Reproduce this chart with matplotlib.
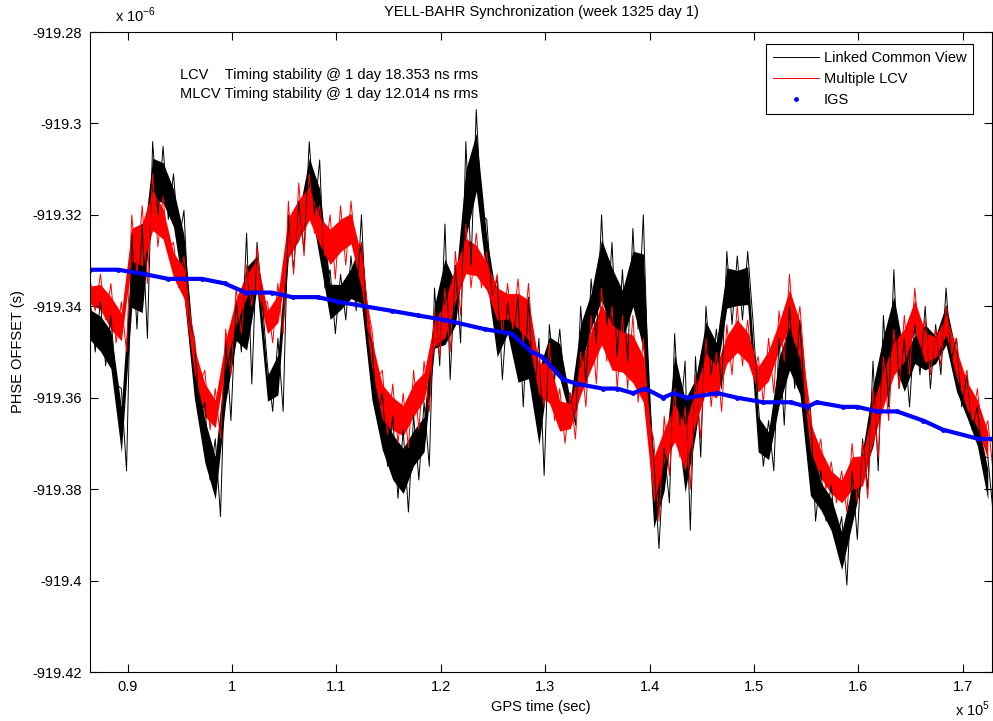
import matplotlib
matplotlib.use('Agg')
from matplotlib import pyplot as plt
import numpy as np

plt.rcParams['font.family'] = ['Liberation Sans', 'DejaVu Sans']
plt.rcParams['mathtext.fontset'] = 'custom'
plt.rcParams['mathtext.rm'] = 'Liberation Sans'

# GPS time of each read-off sample (s); peaks on the whole 1000 s, troughs half-way
t_peak = 86400 + 1000 * np.arange(87)
t_trough = t_peak + 500

# Linked Common View, phase offset in units of 1e-6 s (upper / lower edge of the noisy trace)
lcv_hi = [-919.338, -919.339, -919.342, -919.358, -919.324, -919.322, -919.304, -919.305, -919.311, -919.319,
          -919.347, -919.361, -919.369, -919.347, -919.339, -919.324, -919.326, -919.353, -919.347, -919.320,
          -919.317, -919.304, -919.308, -919.332, -919.333, -919.329, -919.320, -919.348, -919.359, -919.364,
          -919.367, -919.364, -919.361, -919.336, -919.322, -919.331, -919.304, -919.297, -919.321, -919.334,
          -919.339, -919.338, -919.338, -919.347, -919.344, -919.345, -919.359, -919.340, -919.334, -919.320,
          -919.326, -919.332, -919.323, -919.320, -919.373, -919.371, -919.346, -919.352, -919.351, -919.340,
          -919.345, -919.328, -919.329, -919.328, -919.361, -919.365, -919.347, -919.340, -919.343, -919.362,
          -919.376, -919.379, -919.386, -919.376, -919.369, -919.352, -919.342, -919.332, -919.347, -919.344,
          -919.340, -919.344, -919.336, -919.347, -919.355, -919.362, -919.373]
lcv_lo = [-919.350, -919.353, -919.357, -919.376, -919.345, -919.347, -919.320, -919.321, -919.326, -919.343,
          -919.364, -919.378, -919.386, -919.365, -919.350, -919.357, -919.339, -919.363, -919.363, -919.332,
          -919.328, -919.320, -919.336, -919.346, -919.343, -919.341, -919.345, -919.364, -919.375, -919.382,
          -919.385, -919.378, -919.375, -919.353, -919.356, -919.348, -919.331, -919.320, -919.338, -919.356,
          -919.348, -919.362, -919.361, -919.377, -919.356, -919.359, -919.366, -919.357, -919.348, -919.344,
          -919.351, -919.352, -919.345, -919.358, -919.393, -919.383, -919.366, -919.389, -919.373, -919.355,
          -919.358, -919.344, -919.343, -919.343, -919.375, -919.376, -919.366, -919.358, -919.364, -919.387,
          -919.387, -919.392, -919.401, -919.391, -919.380, -919.376, -919.362, -919.358, -919.362, -919.355,
          -919.358, -919.355, -919.352, -919.362, -919.367, -919.373, -919.385]

# Multiple LCV
mlcv_hi = [-919.334, -919.333, -919.335, -919.339, -919.320, -919.318, -919.311, -919.316, -919.326, -919.329,
           -919.347, -919.354, -919.358, -919.345, -919.336, -919.331, -919.327, -919.339, -919.335, -919.317,
           -919.313, -919.311, -919.318, -919.320, -919.318, -919.317, -919.326, -919.345, -919.354, -919.357,
           -919.359, -919.354, -919.352, -919.341, -919.336, -919.328, -919.322, -919.324, -919.328, -919.333,
           -919.335, -919.334, -919.335, -919.350, -919.348, -919.358, -919.359, -919.350, -919.342, -919.336,
           -919.340, -919.342, -919.342, -919.347, -919.369, -919.364, -919.358, -919.362, -919.355, -919.347,
           -919.350, -919.344, -919.340, -919.343, -919.351, -919.347, -919.341, -919.333, -919.340, -919.363,
           -919.369, -919.374, -919.376, -919.370, -919.370, -919.358, -919.351, -919.345, -919.342, -919.336,
           -919.343, -919.345, -919.340, -919.347, -919.354, -919.358, -919.365]
mlcv_lo = [-919.341, -919.343, -919.348, -919.350, -919.333, -919.335, -919.327, -919.328, -919.336, -919.341,
           -919.357, -919.367, -919.369, -919.355, -919.346, -919.340, -919.339, -919.348, -919.346, -919.333,
           -919.329, -919.324, -919.329, -919.334, -919.331, -919.329, -919.339, -919.356, -919.368, -919.370,
           -919.371, -919.367, -919.363, -919.351, -919.350, -919.342, -919.336, -919.336, -919.339, -919.346,
           -919.345, -919.348, -919.351, -919.362, -919.365, -919.370, -919.369, -919.362, -919.357, -919.352,
           -919.358, -919.358, -919.361, -919.365, -919.387, -919.377, -919.373, -919.380, -919.369, -919.362,
           -919.363, -919.355, -919.353, -919.355, -919.361, -919.359, -919.352, -919.348, -919.355, -919.374,
           -919.380, -919.383, -919.385, -919.383, -919.382, -919.373, -919.365, -919.358, -919.355, -919.348,
           -919.355, -919.353, -919.348, -919.358, -919.365, -919.369, -919.376]

# IGS reference
igs_t = [86400, 89100, 91700, 93900, 95500, 97100, 99300, 101300, 103800, 105800, 108200, 110200,
         112700, 115300, 117800, 120400, 124200, 126800, 128700, 129700, 131700, 133100, 135500, 136900,
         138400, 139600, 141300, 142300, 143600, 146500, 148400, 150900, 153500, 155100, 156000, 158500,
         159900, 161800, 163700, 166200, 168100, 171500, 172800]
igs_v = [-919.332, -919.332, -919.333, -919.334, -919.334, -919.334, -919.335, -919.337, -919.337, -919.338,
         -919.338, -919.339, -919.340, -919.341, -919.342, -919.343, -919.345, -919.346, -919.350, -919.351,
         -919.356, -919.357, -919.358, -919.358, -919.359, -919.358, -919.360, -919.359, -919.360, -919.359,
         -919.360, -919.361, -919.361, -919.362, -919.361, -919.362, -919.362, -919.363, -919.363, -919.365,
         -919.367, -919.369, -919.369]

x_ticks = np.arange(90000, 170001, 10000)
y_ticks = np.round(np.arange(-919.42, -919.279, 0.02), 2)


def noisy_trace(ax, hi, lo, color, label):
    hi = np.asarray(hi)
    lo = np.asarray(lo)
    # inner part of the band is almost solid in the original
    mid = (hi + lo) / 2
    ax.fill_between(t_peak, mid + (hi - mid) * 0.55, mid + (lo - mid) * 0.55, color=color, linewidth=0)
    xs = np.column_stack([t_peak, t_trough]).ravel()
    ys = np.column_stack([hi, lo]).ravel()
    ax.plot(xs, ys, color=color, linewidth=0.7, label=label)


fig = plt.figure(figsize=(9.93, 7.21), dpi=100)
ax = fig.add_axes([90 / 993, 49 / 721, 902 / 993, 640 / 721])

noisy_trace(ax, lcv_hi, lcv_lo, 'black', 'Linked Common View')
noisy_trace(ax, mlcv_hi, mlcv_lo, 'red', 'Multiple LCV')
ax.plot(igs_t, igs_v, color='blue', linewidth=3.0, label='_nolegend_')
ax.plot(igs_t, igs_v, 'b.', markersize=5, label='IGS')

ax.set_xlim(86400, 172800)
ax.set_ylim(-919.42, -919.28)
ax.set_xticks(x_ticks)
ax.set_xticklabels([f'{t / 1e5:g}' for t in x_ticks])
ax.set_yticks(y_ticks)
ax.set_yticklabels([f'{v:g}' for v in y_ticks])
ax.tick_params(direction='in', length=6, width=0.8, top=True, right=True, labelsize=10.5, pad=6)
for s in ax.spines.values():
    s.set_linewidth(0.8)

leg = ax.legend(loc='upper right', bbox_to_anchor=(0.979, 0.981), fontsize=10.5, fancybox=False,
                framealpha=1, edgecolor='black', handlelength=3.2, borderpad=0.45, labelspacing=0.5,
                handletextpad=0.3, borderaxespad=0)
leg.get_frame().set_linewidth(0.8)

ax.text(0.0998, 0.933, 'LCV    Timing stability @ 1 day 18.353 ns rms', transform=ax.transAxes,
        fontsize=10.5, va='center')
ax.text(0.0998, 0.903, 'MLCV Timing stability @ 1 day 12.014 ns rms', transform=ax.transAxes,
        fontsize=10.5, va='center')

fig.text(541 / 993, 1 - 12 / 721, 'YELL-BAHR Synchronization (week 1325 day 1)', ha='center', va='center',
         fontsize=10.5)
fig.text(541 / 993, 1 - 707 / 721, 'GPS time (sec)', ha='center', va='center', fontsize=10.5)
fig.text(18 / 993, 1 - 352 / 721, 'PHSE OFFSET (s)', ha='center', va='center', rotation=90, fontsize=10.5)
fig.text(115 / 993, 1 - 22 / 721, r'x 10$^{\mathregular{-6}}$', fontsize=10.5, va='baseline')
fig.text(955 / 993, 1 - 716 / 721, r'x 10$^{\mathregular{5}}$', fontsize=10.5, va='baseline')

fig.savefig('out.png', dpi=100)
plt.close(fig)
